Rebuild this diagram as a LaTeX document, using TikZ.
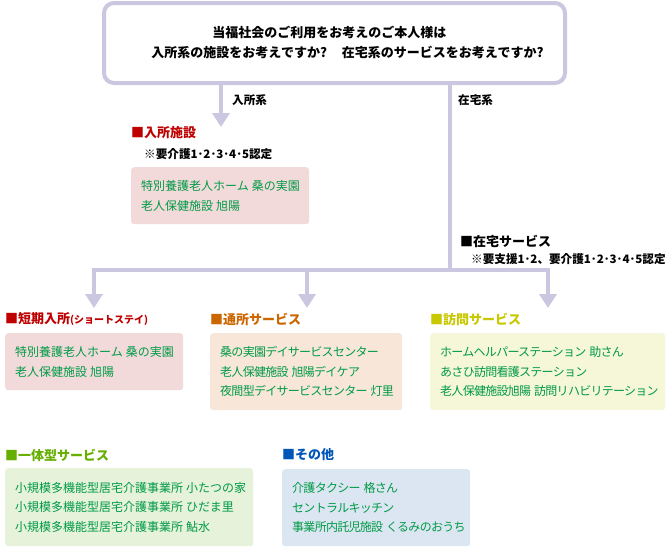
\documentclass[tikz,border=0pt]{standalone}
\usepackage{fontspec}
\setmainfont{Noto Sans CJK JP}
\usetikzlibrary{arrows.meta}
\newcommand\gsp{\hspace{3pt}}
\definecolor{lav}{HTML}{CBC7E0}
\definecolor{tgreen}{HTML}{009A46}
\definecolor{hred}{HTML}{BE0000}
\definecolor{horange}{HTML}{CC6600}
\definecolor{hyellow}{HTML}{C8C800}
\definecolor{hgreen}{HTML}{66AE00}
\definecolor{hblue}{HTML}{0057B7}
\definecolor{fpink}{HTML}{F2DADA}
\definecolor{fpeach}{HTML}{F8E7D9}
\definecolor{fyellow}{HTML}{F6F6D9}
\definecolor{fgreen}{HTML}{E6F2DA}
\definecolor{fblue}{HTML}{DCE6F2}
\begin{document}
\begin{tikzpicture}[x=1pt,y=-1pt,
  conn/.style={draw=lav, line width=4.5pt},
  arr/.style={conn, -{Triangle[width=17pt,length=14pt]}},
  hd/.style={anchor=west, inner sep=0pt, font=\bfseries\fontsize{13}{16}\selectfont},
  note/.style={anchor=west, inner sep=0pt, font=\bfseries\fontsize{11.6}{15}\selectfont},
  boxbg/.style={anchor=north west, rounded corners=3pt, inner sep=0pt},
  txt/.style={anchor=west, inner sep=0pt, align=left, text=tgreen,
    font=\fontsize{12}{19.5}\selectfont},
  tight/.style={font=\fontsize{12}{19.5}\selectfont\addfontfeatures{LetterSpace=-6}}
]
\useasboundingbox (0,0) rectangle (670,547);

\node[draw=lav, line width=4pt, rounded corners=10pt, fill=white,
  minimum width=461pt, minimum height=80pt, inner sep=0pt] (top) at (334.5,43) {};
\node[inner sep=0pt, align=left, font=\bfseries\fontsize{13}{20}\selectfont] (qt) at (347.5,42)
  {\hspace*{61pt}当福社会のご利用をお考えのご本人様は\\入所系の施設をお考えですか?\hspace{15pt}在宅系のサービスをお考えですか?};

% connectors
\coordinate (aIn) at (221,127);
\coordinate (j) at (450,270);
\coordinate (jm) at (307,270);
\coordinate (tL) at (94,308);
\coordinate (tM) at (307,308);
\coordinate (tR) at (548,308);
\draw[arr] (top.south -| aIn) -- (aIn);
\draw[conn] (top.south -| j) -- (j);
\draw[arr] (j) -| (tL);
\draw[arr] (j) -| (tR);
\draw[arr] (jm) -- (tM);

\node[note] (lIn) at (232,100) {入所系};
\node[note] (lZt) at (458,100) {在宅系};

% 入所施設
\node[hd, text=hred] (hIn) at (131,133) {■入所施設};
\node[note] (nIn) at (144,154) {※要介護1･2･3･4･5認定};
\node[boxbg, fill=fpink, minimum width=178pt, minimum height=57pt] (bIn) at (131,167) {};
\node[txt] (tIn) at ([xshift=10pt]bIn.west)
  {特別養護老人ホーム\gsp 桑の実園\\老人保健施設\gsp 旭陽};

% 在宅サービス
\node[hd] (hZt) at (460,241) {■在宅サービス};
\node[note] (nZt) at (471,259) {※要支援1･2、要介護1･2･3･4･5認定};

% row 2
\node[hd, text=hred] (hSt) at (5,319) {■短期入所{\fontsize{10}{12}\selectfont(ショートステイ)}};
\node[boxbg, fill=fpink, minimum width=178pt, minimum height=57pt] (bSt) at (5,333) {};
\node[txt] (tSt) at ([xshift=10pt]bSt.west)
  {特別養護老人ホーム\gsp 桑の実園\\老人保健施設\gsp 旭陽};

\node[hd, text=horange] (hTs) at (210,319) {■通所サービス};
\node[boxbg, fill=fpeach, minimum width=192pt, minimum height=77pt] (bTs) at (210,333) {};
\node[txt, tight] (tTs) at ([xshift=10pt]bTs.west)
  {桑の実園デイサービスセンター\\老人保健施設\gsp 旭陽デイケア\\夜間型デイサービスセンター\gsp 灯里};

\node[hd, text=hyellow] (hHo) at (430,319) {■訪問サービス};
\node[boxbg, fill=fyellow, minimum width=235pt, minimum height=77pt] (bHo) at (430,333) {};
\node[txt, tight] (tHo) at ([xshift=10pt]bHo.west)
  {ホームヘルパーステーション\gsp 助さん\\あさひ訪問看護ステーション\\老人保健施設旭陽\gsp 訪問リハビリテーション};

% row 3
\node[hd, text=hgreen] (hIt) at (5,455) {■一体型サービス};
\node[boxbg, fill=fgreen, minimum width=248pt, minimum height=78pt] (bIt) at (5,468) {};
\node[txt] (tIt) at ([xshift=10pt]bIt.west)
  {小規模多機能型居宅介護事業所\gsp 小たつの家\\小規模多機能型居宅介護事業所\gsp ひだま里\\小規模多機能型居宅介護事業所\gsp 鮎水};

\node[hd, text=hblue] (hOt) at (282,455) {■その他};
\node[boxbg, fill=fblue, minimum width=188pt, minimum height=77pt] (bOt) at (282,469) {};
\node[txt, tight] (tOt) at ([xshift=10pt]bOt.west)
  {介護タクシー\gsp 格さん\\セントラルキッチン\\事業所内託児施設\gsp くるみのおうち};
\end{tikzpicture}
\end{document}
